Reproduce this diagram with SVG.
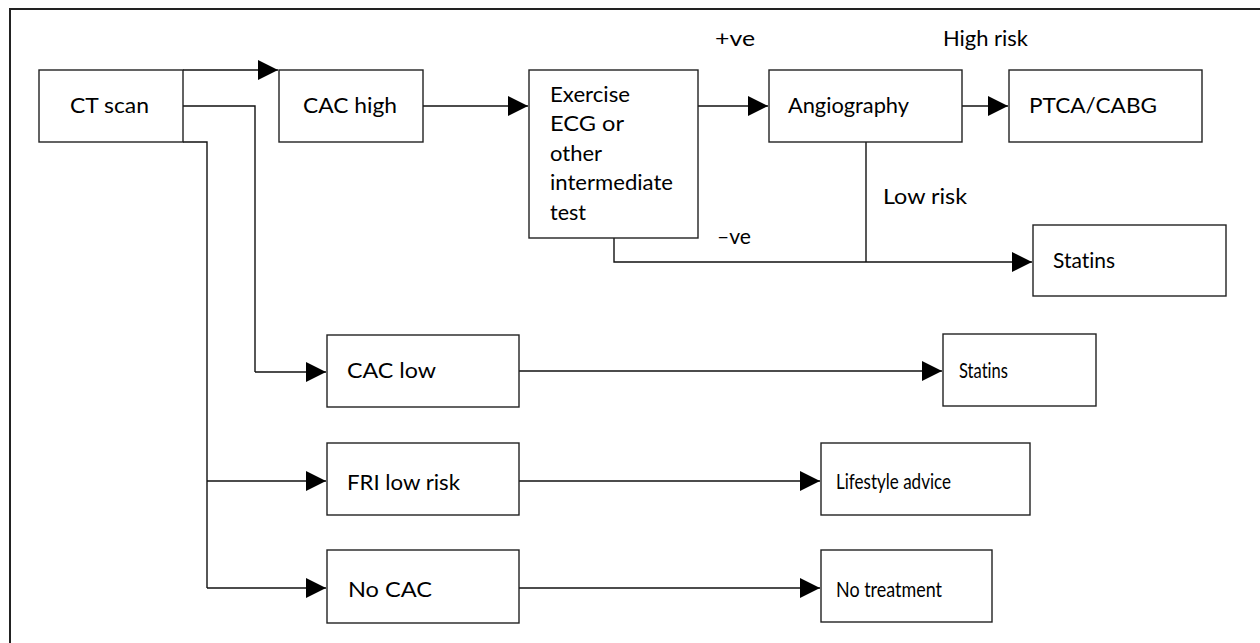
<svg xmlns="http://www.w3.org/2000/svg" width="1260" height="643" viewBox="0 0 1260 643">
<defs>
<marker id="ah" markerWidth="20" markerHeight="20" refX="20" refY="10" orient="auto" markerUnits="userSpaceOnUse">
<path d="M0,0 L20,10 L0,20 Z" fill="#000"/>
</marker>
<style>
.box{fill:#fff;stroke:#222;stroke-width:1.4}
.ln{fill:none;stroke:#111;stroke-width:1.4}
.ar{fill:none;stroke:#111;stroke-width:1.4;marker-end:url(#ah)}
text{font-family:Lato,"Open Sans","Liberation Sans",sans-serif;font-size:21px;fill:#000;font-variant-ligatures:none}
</style>
</defs>
<rect width="1260" height="643" fill="#fff"/>
<path d="M10,643 V9 H1260" fill="none" stroke="#222" stroke-width="2"/>

<g id="connectors">
<path class="ar" d="M183,70 H278"/>
<path class="ln" d="M183,106 H255 V372"/>
<path class="ar" d="M255,372 H326"/>
<path class="ln" d="M183,142 H207 V588"/>
<path class="ar" d="M207,481 H326"/>
<path class="ar" d="M207,588 H326"/>
<path class="ar" d="M423,106 H528"/>
<path class="ar" d="M698,106 H768"/>
<path class="ar" d="M962,106 H1008"/>
<path class="ln" d="M614,238 V262 H866"/>
<path class="ln" d="M866,142 V262"/>
<path class="ar" d="M866,262 H1032"/>
<path class="ar" d="M519,371 H942"/>
<path class="ar" d="M519,481 H820"/>
<path class="ar" d="M519,588 H820"/>
<text x="715" y="46" textLength="40" lengthAdjust="spacingAndGlyphs">+ve</text>
<text x="717" y="244" textLength="34" lengthAdjust="spacingAndGlyphs">–ve</text>
<text x="943" y="46" textLength="85" lengthAdjust="spacingAndGlyphs">High risk</text>
<text x="883" y="204" textLength="84" lengthAdjust="spacingAndGlyphs">Low risk</text>
</g>

<g id="ct"><rect class="box" x="39" y="70" width="144" height="72"/><text x="70" y="113" textLength="79" lengthAdjust="spacingAndGlyphs">CT scan</text></g>
<g id="cachigh"><rect class="box" x="279" y="70" width="144" height="72"/><text x="303" y="113" textLength="94" lengthAdjust="spacingAndGlyphs">CAC high</text></g>
<g id="exercise"><rect class="box" x="529" y="70" width="169" height="168"/>
<text x="550" y="102" textLength="80" lengthAdjust="spacingAndGlyphs">Exercise</text>
<text x="550" y="131" textLength="74" lengthAdjust="spacingAndGlyphs">ECG or</text>
<text x="550" y="161" textLength="52" lengthAdjust="spacingAndGlyphs">other</text>
<text x="550" y="190" textLength="123" lengthAdjust="spacingAndGlyphs">intermediate</text>
<text x="550" y="220" textLength="36" lengthAdjust="spacingAndGlyphs">test</text></g>
<g id="angio"><rect class="box" x="769" y="70" width="193" height="72"/><text x="788" y="113" textLength="121" lengthAdjust="spacingAndGlyphs">Angiography</text></g>
<g id="ptca"><rect class="box" x="1009" y="70" width="193" height="72"/><text x="1029" y="113" textLength="128" lengthAdjust="spacingAndGlyphs">PTCA/CABG</text></g>
<g id="statins1"><rect class="box" x="1033" y="225" width="193" height="71"/><text x="1053" y="268" textLength="62" lengthAdjust="spacingAndGlyphs">Statins</text></g>
<g id="caclow"><rect class="box" x="327" y="335" width="192" height="72"/><text x="347" y="378" textLength="89" lengthAdjust="spacingAndGlyphs">CAC low</text></g>
<g id="statins2"><rect class="box" x="943" y="334" width="153" height="72"/><text x="959" y="378" textLength="49" lengthAdjust="spacingAndGlyphs">Statins</text></g>
<g id="frilow"><rect class="box" x="327" y="443" width="192" height="72"/><text x="347" y="490" textLength="113" lengthAdjust="spacingAndGlyphs">FRI low risk</text></g>
<g id="lifestyle"><rect class="box" x="821" y="443" width="209" height="72"/><text x="836" y="489" textLength="115" lengthAdjust="spacingAndGlyphs">Lifestyle advice</text></g>
<g id="nocac"><rect class="box" x="327" y="550" width="192" height="73"/><text x="348" y="597" textLength="84" lengthAdjust="spacingAndGlyphs">No CAC</text></g>
<g id="notreat"><rect class="box" x="821" y="550" width="171" height="72"/><text x="836" y="597" textLength="106" lengthAdjust="spacingAndGlyphs">No treatment</text></g>
</svg>
